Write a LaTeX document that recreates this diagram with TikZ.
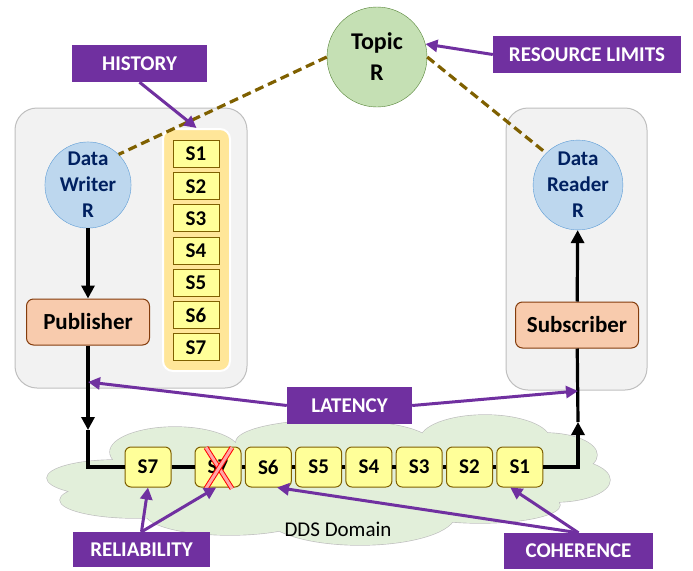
\documentclass[tikz,border=0pt]{standalone}
\usepackage{fontspec}
\setmainfont{Carlito}
\usetikzlibrary{shapes.geometric, arrows.meta, positioning}
\definecolor{qospurple}{HTML}{7030A0}
\definecolor{panelgray}{HTML}{BFBFBF}
\definecolor{panelfill}{HTML}{F2F2F2}
\definecolor{entityblue}{HTML}{5B9BD5}
\definecolor{entityfill}{HTML}{BDD7EE}
\definecolor{entitytext}{HTML}{002060}
\definecolor{pubsubborder}{HTML}{843C0C}
\definecolor{pubsubfill}{HTML}{F8CBAD}
\definecolor{samplebrown}{HTML}{7F6000}
\definecolor{sampleyellow}{HTML}{FFFF99}
\definecolor{historyfill}{HTML}{FFE699}
\definecolor{topicfill}{HTML}{C5E0B4}
\definecolor{topicborder}{HTML}{548235}
\definecolor{cloudgreen}{HTML}{E2EFDA}
\tikzstyle{panel} = [draw=panelgray, fill=panelfill, rounded corners=22pt, line width=1pt]
\tikzstyle{entity} = [circle, draw=entityblue, fill=entityfill, minimum size=84pt, inner sep=0pt, text=entitytext, align=center, font=\fontsize{21}{26}\selectfont\bfseries]
\tikzstyle{pubsub} = [draw=pubsubborder, fill=pubsubfill, rounded corners=7pt, minimum width=123pt, minimum height=46pt, line width=1pt, font=\fontsize{23}{28}\selectfont\bfseries]
\tikzstyle{samplebox} = [draw=samplebrown, fill=sampleyellow, minimum width=46pt, minimum height=27pt, inner sep=0pt, line width=1pt, font=\fontsize{21}{25}\selectfont\bfseries]
\tikzstyle{packet} = [samplebox, rounded corners=6pt, minimum height=40pt]
\tikzstyle{qoslabel} = [fill=qospurple, text=white, minimum height=37pt, inner sep=0pt, font=\fontsize{21}{25}\selectfont\bfseries]
\tikzstyle{flow} = [line width=3.2pt, ->, >={Triangle[length=13pt,width=13pt]}]
\tikzstyle{wire} = [line width=3.2pt]
\tikzstyle{qos} = [draw=qospurple, line width=3pt, ->, >={Triangle[length=12pt,width=12pt]}]
\tikzstyle{topiclink} = [draw=samplebrown, line width=3.2pt, dash pattern=on 9pt off 5pt]
\tikzstyle{dropmark} = [draw=red, double=red!35, double distance=3pt, line width=1pt]

\begin{document}
\begin{tikzpicture}[x=1pt, y=-1pt]
      \useasboundingbox (0,0) rectangle (693,570);
            % DDS domain cloud: outlined lobes, then the same lobes filled to hide inner edges
            \draw [draw=panelgray, fill=cloudgreen, line width=1.3pt]
                  (115,478) ellipse [x radius=68, y radius=18] (135,500) ellipse [x radius=75, y radius=18]
                  (230,513) ellipse [x radius=85, y radius=22] (360,515) ellipse [x radius=95, y radius=30]
                  (480,505) ellipse [x radius=80, y radius=18] (555,480) ellipse [x radius=55, y radius=22]
                  (545,455) ellipse [x radius=52, y radius=22] (485,440) ellipse [x radius=65, y radius=25]
                  (333,442) ellipse [x radius=97, y radius=22] (175,452) ellipse [x radius=65, y radius=25];
            \fill [cloudgreen]
                  (115,478) ellipse [x radius=68, y radius=18] (135,500) ellipse [x radius=75, y radius=18]
                  (230,513) ellipse [x radius=85, y radius=22] (360,515) ellipse [x radius=95, y radius=30]
                  (480,505) ellipse [x radius=80, y radius=18] (555,480) ellipse [x radius=55, y radius=22]
                  (545,455) ellipse [x radius=52, y radius=22] (485,440) ellipse [x radius=65, y radius=25]
                  (333,442) ellipse [x radius=97, y radius=22] (175,452) ellipse [x radius=65, y radius=25]
                  (330,478) ellipse [x radius=240, y radius=35];
                  \node (DomainLabel) [font=\fontsize{21}{25}\selectfont] at (338,529) {DDS Domain};

                  % Writer and reader sides
                  \node (PubPanel) [panel, minimum width=232pt, minimum height=280pt] at (131,248) {};
                  \node (SubPanel) [panel, minimum width=141pt, minimum height=282pt] at (576.5,249) {};
                  \node (Topic) [circle, draw=topicborder, fill=topicfill, minimum size=100pt, align=center, font=\fontsize{24}{31}\selectfont\bfseries] at (377,57) {Topic\\R};
                  \node (Writer) [entity] at (88,185) {Data\\Writer\\R};
                  \node (Publisher) [pubsub] at (88,322) {Publisher};
                  \node (Reader) [entity] at (578,185) {Data\\Reader\\R};
                  \node (Subscriber) [pubsub] at (577,325) {Subscriber};

                  % History samples
                  \node (HistoryBox) [fill=historyfill, draw=white, line width=2pt, rounded corners=10pt, minimum width=67pt, minimum height=242pt] at (196.5,250) {};
                  \node (hS1) [samplebox] at (196,154) {S1};
                  \node (hS2) [samplebox, below of=hS1, node distance=32.2pt] {S2};
                  \node (hS3) [samplebox, below of=hS2, node distance=32.2pt] {S3};
                  \node (hS4) [samplebox, below of=hS3, node distance=32.2pt] {S4};
                  \node (hS5) [samplebox, below of=hS4, node distance=32.2pt] {S5};
                  \node (hS6) [samplebox, below of=hS5, node distance=32.2pt] {S6};
                  \node (hS7) [samplebox, below of=hS6, node distance=32.2pt] {S7};

                  % Samples on the wire
                  \coordinate (leftdown) at (88,430);
                  \coordinate (rightup) at (578,422);
                  \node (cS7) [packet] at (148,467) {S7};
                  \node (cX) [packet] at (218,467) {S7};
                  \node (cS6) [packet, right of=cX, node distance=50.3pt] {S6};
                  \node (cS5) [packet, right of=cS6, node distance=50.3pt] {S5};
                  \node (cS4) [packet, right of=cS5, node distance=50.3pt] {S4};
                  \node (cS3) [packet, right of=cS4, node distance=50.3pt] {S3};
                  \node (cS2) [packet, right of=cS3, node distance=50.3pt] {S2};
                  \node (cS1) [packet, right of=cS2, node distance=50.3pt] {S1};

            % Data path
            \draw [flow] (Writer) -- (Publisher);
            \draw [flow] (Publisher) -- (leftdown);
            \draw [wire] (leftdown) |- (cS7.west);
            \draw [wire] (cS7.east) -- (cX.west) (cX.east) -- (cS6.west) (cS6.east) -- (cS5.west) (cS5.east) -- (cS4.west) (cS4.east) -- (cS3.west) (cS3.east) -- (cS2.west) (cS2.east) -- (cS1.west);
            \draw [flow] (cS1.east) -| (rightup);
            \draw [wire] (rightup) -- (Subscriber);
            \draw [flow] (Subscriber) -- (Reader);
            \draw [dropmark] ([xshift=-12pt, yshift=-1pt]cX.north) -- ([xshift=14pt, yshift=-1pt]cX.south);
            \draw [dropmark] ([xshift=14pt, yshift=-1pt]cX.north) -- ([xshift=-12pt, yshift=-1pt]cX.south);

            % Topic links
            \draw [topiclink] (Topic.west) -- (Writer.45);
            \draw [topiclink] (Topic.east) -- (Reader.135);

            % QoS labels
            \node (History) [qoslabel, minimum width=135pt] at (139.5,63.5) {HISTORY};
            \node (ResourceLimits) [qoslabel, minimum width=188pt] at (587,54.5) {RESOURCE LIMITS};
            \node (Latency) [qoslabel, minimum width=125pt] at (349.5,405.5) {LATENCY};
            \node (Reliability) [qoslabel, minimum width=137pt, minimum height=35pt] at (141.5,549.5) {RELIABILITY};
            \node (Coherence) [qoslabel, minimum width=149pt, minimum height=36pt] at (578.5,551) {COHERENCE};
            \coordinate (latL) at (88,382);
            \coordinate (latR) at (578,391);
            \draw [qos] (History.south) -- (HistoryBox.north);
            \draw [qos] (ResourceLimits.west) -- (Topic.15);
            \draw [qos] (Latency.west) -- (latL);
            \draw [qos] (Latency.east) -- (latR);
            \draw [qos] (Reliability.north) -- (cS7.south);
            \draw [qos] (Reliability.north) -- (cX.-95);
            \draw [qos] (Coherence.north) -- (cS6.-67);
            \draw [qos] (Coherence.north) -- (cS1.-115);
        \end{tikzpicture}
\end{document}
